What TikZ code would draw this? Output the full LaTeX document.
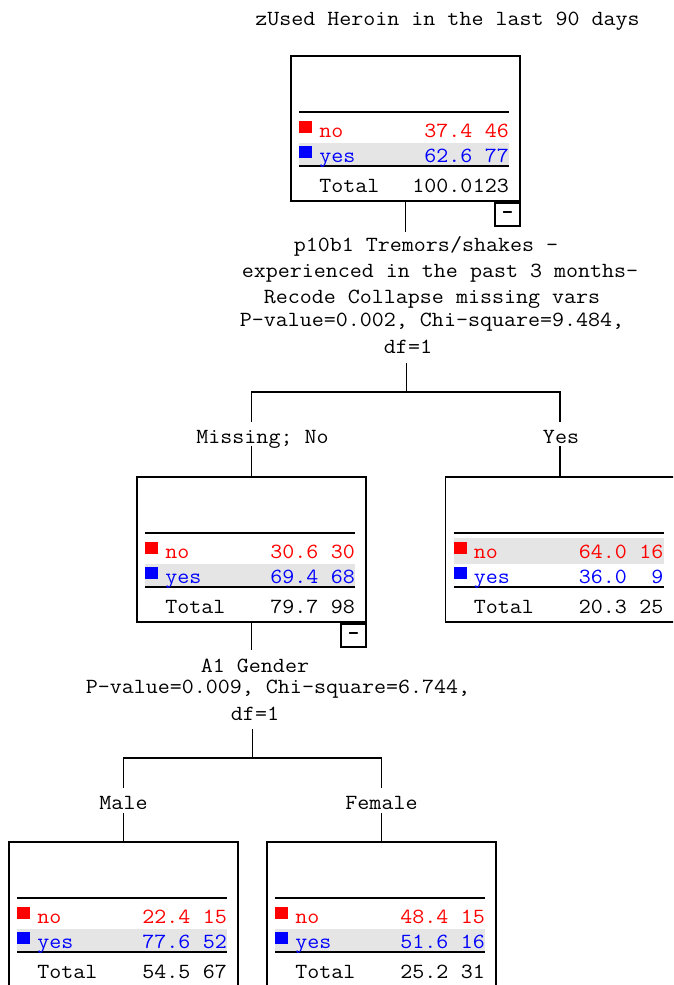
\documentclass[tikz,border=0pt]{standalone}
\usepackage{fontspec}
\newfontfamily\treefont[FakeStretch=1.08]{Latin Modern Mono}
\newfontfamily\minusfont{Liberation Mono}
\tikzset{
  treetext/.style={font=\treefont\fontsize{21.6}{24}\selectfont, inner sep=0pt},
  cond/.style={treetext, anchor=base, text height=13pt, text depth=0pt},
  cell/.style={treetext},
  nodebox/.style={draw, line width=1.7pt, minimum width=229pt,
                  minimum height=145pt, inner sep=0pt},
  minusbox/.style={draw, line width=1.7pt, minimum width=25pt, minimum height=23pt,
                   inner sep=0pt, font=\minusfont\bfseries\fontsize{19.8}{24}\selectfont,
                   anchor=north east},
  rule/.style={line width=1.7pt},
  rowshade/.style={fill=gray!20},
  edge/.style={line width=1.7pt},
}
% one category table: name, centre, no %, no n, yes %, yes n, total %, total n, shaded row
\newcommand{\catbox}[9]{%
  \node[nodebox] (#1) at (#2) {};
  \begin{scope}[shift={(#1.north west)}]
    \ifnum#9=1
      \fill[rowshade] (9,62) rectangle (219,88);
    \else
      \fill[rowshade] (9,88) rectangle (219,111);
    \fi
    \draw[rule] (9,57) -- (219,57);
    \draw[rule] (9,111) -- (219,111);
    \fill[red] (9,66) rectangle (22,78);
    \fill[blue] (9,91) rectangle (22,103);
    \node[cell, red, anchor=base west] (#1-no) at (29,82) {no};
    \node[cell, red, anchor=base east] (#1-nop) at (182.5,82) {#3};
    \node[cell, red, anchor=base east] (#1-non) at (219,82) {#4};
    \node[cell, blue, anchor=base west] (#1-yes) at (29,107) {yes};
    \node[cell, blue, anchor=base east] (#1-yesp) at (182.5,107) {#5};
    \node[cell, blue, anchor=base east] (#1-yesn) at (219,107) {#6};
    \node[cell, anchor=base west] (#1-tot) at (29,137) {Total};
    \node[cell, anchor=base east] (#1-totp) at (182.5,137) {#7};
    \node[cell, anchor=base east] (#1-totn) at (219,137) {#8};
  \end{scope}
}

\begin{document}
\begin{tikzpicture}[
  x=1pt,
  y=-1pt,
]
\useasboundingbox (0,0) rectangle (673,985);
\clip (0,0) rectangle (673,985);

\node[cond] (title) at (447.5,25) {zUsed Heroin in the last 90 days};

% tables
\catbox{root}{405.5,128.5}{37.4}{46}{62.6}{77}{100.0}{123}{2}
\catbox{midl}{251.5,549.5}{30.6}{30}{69.4}{68}{79.7}{98}{2}
\catbox{midr}{560,549.5}{64.0}{16}{36.0}{9}{20.3}{25}{1}
\catbox{botl}{123.5,914.5}{22.4}{15}{77.6}{52}{54.5}{67}{2}
\catbox{botr}{381.5,914.5}{48.4}{15}{51.6}{16}{25.2}{31}{2}

\node[minusbox] (root-m) at (root.south east) {–};
\node[minusbox] (midl-m) at (midl.south east) {–};

% first split
\foreach [count=\i] \x/\y/\t in
                  {426/251/{p10b1 Tremors/shakes -},
                   440/277/{experienced in the past 3 months-},
                   432/303/{Recode Collapse missing vars},
                   432/326/{P-value=0.002, Chi-square=9.484,},
                   408/353/{df=1}}
  {
   \node[cond, name=s1-\i] at (\x,\y) {\t};
  }
\coordinate (j1) at (406.5,392);
\node[cond] (lab-l1) at (262.5,443) {Missing; No};
\node[cond] (lab-r1) at (561,443) {Yes};

\draw[edge, shorten >=6pt] (root.south) -- (root.south |- s1-1.north);
\draw[edge, shorten <=10pt] (j1 |- s1-5.south) -- (j1);
\draw[edge, shorten <=8pt, shorten >=8pt]
  (midl.north |- lab-l1.north) -- (midl.north |- j1)
  -- (midr.north |- j1) -- (midr.north |- lab-r1.north);
\draw[edge, shorten <=3pt] (midl.north |- lab-l1.south) -- (midl.north);
\draw[edge, shorten <=3pt] (midr.north |- lab-r1.south) -- (midr.north);

% second split
\foreach [count=\i] \x/\y/\t in
                  {255/672/{A1 Gender},
                   278/693/{P-value=0.009, Chi-square=6.744,},
                   255/720/{df=1}}
  {
   \node[cond, name=s2-\i] at (\x,\y) {\t};
  }
\coordinate (j2) at (252.5,758);
\node[cond] (lab-l2) at (123.5,809) {Male};
\node[cond] (lab-r2) at (381.5,809) {Female};

\draw[edge, shorten >=9pt] (midl.south) -- (midl.south |- s2-1.north);
\draw[edge, shorten <=9pt] (j2 |- s2-3.south) -- (j2);
\draw[edge, shorten <=8pt, shorten >=8pt]
  (botl.north |- lab-l2.north) -- (botl.north |- j2)
  -- (botr.north |- j2) -- (botr.north |- lab-r2.north);
\draw[edge, shorten <=4pt] (botl.north |- lab-l2.south) -- (botl.north);
\draw[edge, shorten <=4pt] (botr.north |- lab-r2.south) -- (botr.north);

\end{tikzpicture}
\end{document}
